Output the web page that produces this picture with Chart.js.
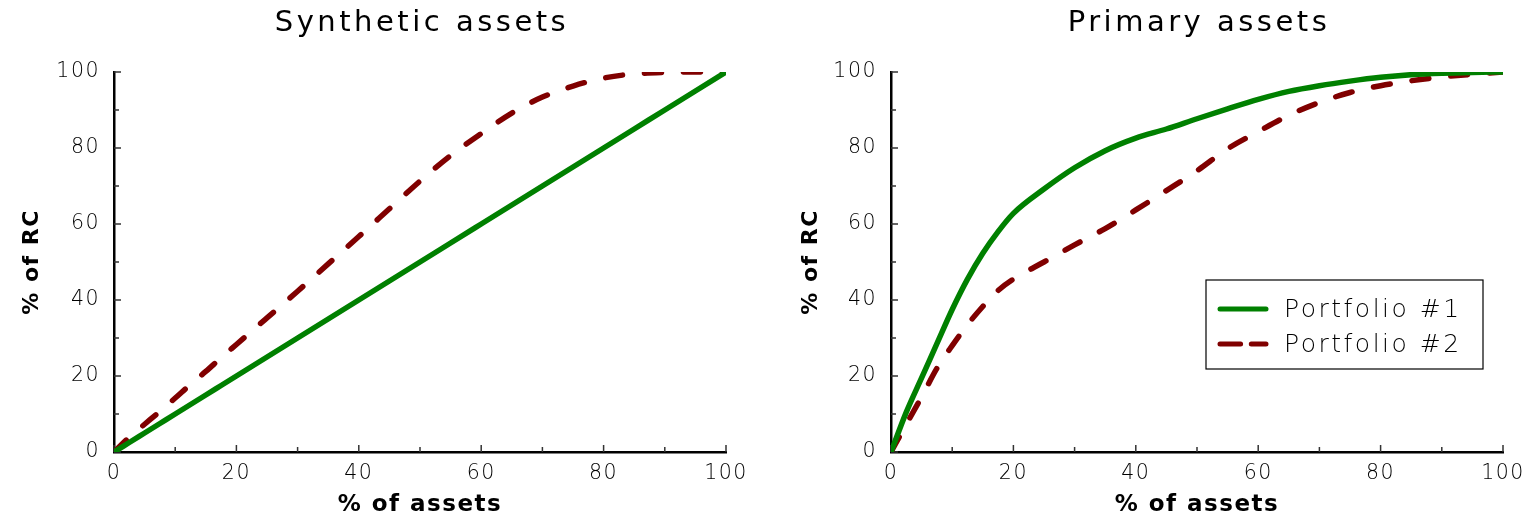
<!DOCTYPE html>
<html>
<head>
<meta charset="utf-8">
<script src="https://cdn.jsdelivr.net/npm/chart.js@4.4.1/dist/chart.umd.min.js"></script>
<style>
  html, body { margin: 0; padding: 0; background: #fff; }
  .wrap { display: flex; width: 1536px; height: 521px; }
  .box { position: relative; width: 768px; height: 521px; }
</style>
</head>
<body>
<div class="wrap">
  <div class="box"><canvas id="synth"></canvas></div>
  <div class="box"><canvas id="prim"></canvas></div>
</div>
<script>
// x grid: % of assets
const xPct = [0, 2.5, 5, 7.5, 10, 12.5, 15, 17.5, 20, 25, 30, 35, 40, 45, 50, 55, 60, 65, 70, 75, 80, 85, 90, 95, 100];

// Synthetic assets, % of RC
const synthP1 = [0, 2.5, 5, 7.5, 10, 12.5, 15, 17.5, 20, 25, 30, 35, 40, 45, 50, 55, 60, 65, 70, 75, 80, 85, 90, 95, 100];
const synthP2 = [0, 3.9, 7.3, 10.7, 14.2, 17.8, 21.2, 24.8, 28.3, 35.3, 42.3, 49.5, 56.7, 64, 71.3, 78, 83.8, 89.2, 93.4, 96.3, 98.4, 99.5, 99.9, 100, 100];

// Primary assets, % of RC
const primP1 = [0, 10.5, 19.5, 28.5, 37.5, 45.5, 52.3, 58, 62.8, 69.2, 74.8, 79.3, 82.6, 85, 87.7, 90.3, 92.8, 94.9, 96.4, 97.6, 98.6, 99.3, 99.7, 99.9, 100];
const primP2 = [0, 7.3, 14.5, 22, 28, 33.5, 38.3, 42.5, 45.5, 50, 54.5, 58.8, 63.7, 68.8, 74, 79.8, 84.3, 88.6, 92, 94.6, 96.4, 97.7, 98.7, 99.4, 100];

const seriesLabels = ["Portfolio #1", "Portfolio #2"];
const majorTicks = [0, 20, 40, 60, 80, 100];
const minorTicks = [10, 30, 50, 70, 90];

const GREEN = "#008000";
const RED = "#800000";
const FONT = "'DejaVu Sans', sans-serif";

// the reference font is wide, so space the letters out a bit
const spacing = {
  id: "spacing",
  beforeDraw(chart) { chart.ctx.letterSpacing = "1.5px"; }
};

// title centred over the plot area
const plotTitle = {
  id: "plotTitle",
  afterDraw(chart, args, opts) {
    const { ctx, chartArea: a } = chart;
    ctx.save();
    ctx.font = "29px " + FONT;
    ctx.letterSpacing = "3.5px";
    ctx.textAlign = "center";
    ctx.textBaseline = "alphabetic";
    ctx.fillStyle = "#000";
    ctx.fillText(opts.text, (a.left + a.right) / 2 + 2, 31);
    ctx.restore();
  }
};

// small inward tick marks on both axes
const inwardTicks = {
  id: "inwardTicks",
  beforeDatasetsDraw(chart) {
    const { ctx, chartArea: a, scales } = chart;
    ctx.save();
    ctx.strokeStyle = "#333";
    ctx.lineWidth = 1.5;
    const mark = (v, len) => {
      const px = scales.x.getPixelForValue(v);
      const py = scales.y.getPixelForValue(v);
      ctx.beginPath();
      ctx.moveTo(px, a.bottom);
      ctx.lineTo(px, a.bottom - len);
      ctx.moveTo(a.left, py);
      ctx.lineTo(a.left + len, py);
      ctx.stroke();
    };
    majorTicks.forEach(v => mark(v, 7));
    minorTicks.forEach(v => mark(v, 5));
    ctx.restore();
  }
};

// boxed legend inside the plot
const boxLegend = {
  id: "boxLegend",
  afterDraw(chart, args, opts) {
    if (!opts.show) return;
    const { ctx, chartArea: a } = chart;
    const w = 277, h = 89;
    const x = a.right - 20 - w, y = 280;
    ctx.save();
    ctx.fillStyle = "#fff";
    ctx.fillRect(x, y, w, h);
    ctx.strokeStyle = "#000";
    ctx.lineWidth = 1.2;
    ctx.strokeRect(x, y, w, h);
    chart.data.datasets.forEach((ds, i) => {
      const cy = y + 29 + i * 35;
      ctx.strokeStyle = ds.borderColor;
      ctx.lineWidth = 5;
      ctx.lineCap = "round";
      ctx.setLineDash(ds.borderDash && ds.borderDash.length ? [20.6, 10.7] : []);
      ctx.beginPath();
      ctx.moveTo(x + 14, cy);
      ctx.lineTo(x + 60, cy);
      ctx.stroke();
      ctx.setLineDash([]);
      ctx.fillStyle = "#000";
      ctx.font = "200 25px " + FONT;
      ctx.letterSpacing = "2.5px";
      ctx.textBaseline = "middle";
      ctx.fillText(ds.label, x + 78, cy + 1);
    });
    ctx.restore();
  }
};

function makeChart(id, title, p1, p2, yWidth, padLeft, padRight, showLegend) {
  return new Chart(document.getElementById(id), {
    type: "line",
    data: {
      labels: xPct,
      datasets: [
        { label: seriesLabels[0], data: xPct.map((x, i) => ({ x, y: p1[i] })), borderColor: GREEN, borderWidth: 5.5, pointRadius: 0, cubicInterpolationMode: "monotone", borderCapStyle: "round" },
        { label: seriesLabels[1], data: xPct.map((x, i) => ({ x, y: p2[i] })), borderColor: RED, borderWidth: 5.5, pointRadius: 0, cubicInterpolationMode: "monotone", borderCapStyle: "round", borderDash: [17, 22] }
      ]
    },
    options: {
      responsive: true,
      maintainAspectRatio: false,
      animation: false,
      layout: { padding: { left: padLeft, right: padRight, top: 72, bottom: 0 } },
      plugins: {
        legend: { display: false },
        tooltip: { enabled: false },
        title: { display: false },
        plotTitle: { text: title },
        boxLegend: { show: showLegend }
      },
      scales: {
        x: {
          type: "linear", min: 0, max: 100,
          afterBuildTicks: s => { s.ticks = majorTicks.map(v => ({ value: v })); },
          afterFit: s => { s.height = 69; },
          grid: { display: true, drawOnChartArea: false, drawTicks: false },
          border: { display: true, color: "#000", width: 2.5 },
          ticks: { color: "#000", padding: 9, maxRotation: 0, font: { family: FONT, size: 20.5, weight: "200" } },
          title: { display: true, text: "% of assets", color: "#000", padding: { top: 0, bottom: 2 }, font: { family: FONT, size: 23, weight: "bold", lineHeight: 1.2 } }
        },
        y: {
          type: "linear", min: 0, max: 100,
          afterBuildTicks: s => { s.ticks = majorTicks.map(v => ({ value: v })); },
          afterFit: s => { s.width = yWidth; },
          grid: { display: true, drawOnChartArea: false, drawTicks: false },
          border: { display: true, color: "#000", width: 2.5 },
          ticks: { color: "#000", padding: 14, font: { family: FONT, size: 20.5, weight: "200" } },
          title: { display: true, text: "% of RC", color: "#000", padding: { top: 19, bottom: 0 }, font: { family: FONT, size: 22, weight: "bold", lineHeight: 1.2 } }
        }
      }
    },
    plugins: [spacing, inwardTicks, plotTitle, boxLegend]
  });
}

makeChart("synth", "Synthetic assets", synthP1, synthP2, 114, 0, 42, false);
makeChart("prim", "Primary assets", primP1, primP2, 112, 11, 33, true);
</script>
</body>
</html>
